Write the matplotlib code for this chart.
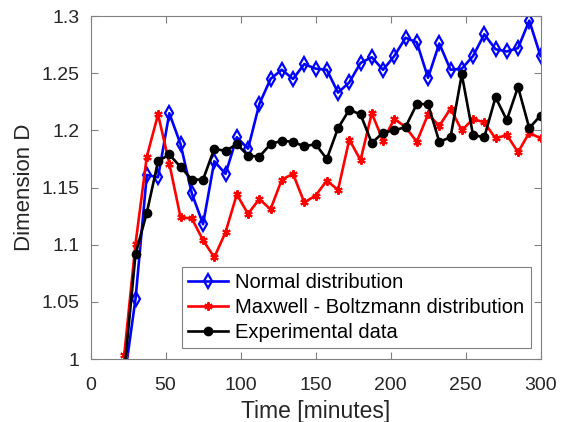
import matplotlib
matplotlib.use("Agg")
import matplotlib.pyplot as plt

plt.rcParams['font.family'] = ['Liberation Sans', 'DejaVu Sans']

time = [22.5, 30, 37.5, 45, 52.5, 60, 67.5, 75, 82.5, 90, 97.5, 105, 112.5, 120,
        127.5, 135, 142.5, 150, 157.5, 165, 172.5, 180, 187.5, 195, 202.5, 210,
        217.5, 225, 232.5, 240, 247.5, 255, 262.5, 270, 277.5, 285, 292.5, 300]

normal = [0.982, 1.053, 1.161, 1.159, 1.215, 1.188, 1.145, 1.118, 1.173, 1.162,
          1.194, 1.184, 1.223, 1.245, 1.253, 1.245, 1.258, 1.254, 1.253, 1.233,
          1.242, 1.259, 1.264, 1.253, 1.265, 1.281, 1.277, 1.246, 1.276, 1.253,
          1.254, 1.265, 1.284, 1.271, 1.269, 1.272, 1.296, 1.265]

maxwell = [1.004, 1.101, 1.177, 1.214, 1.171, 1.124, 1.123, 1.104, 1.089, 1.111,
           1.144, 1.127, 1.140, 1.131, 1.157, 1.162, 1.137, 1.143, 1.156, 1.148,
           1.192, 1.174, 1.215, 1.191, 1.210, 1.203, 1.190, 1.214, 1.204, 1.219,
           1.200, 1.210, 1.207, 1.193, 1.196, 1.181, 1.198, 1.193]

experimental = [0.989, 1.092, 1.128, 1.173, 1.179, 1.168, 1.157, 1.157, 1.184, 1.182,
                1.188, 1.178, 1.177, 1.188, 1.191, 1.190, 1.186, 1.188, 1.175, 1.202,
                1.218, 1.214, 1.189, 1.198, 1.200, 1.203, 1.223, 1.223, 1.190, 1.194,
                1.249, 1.196, 1.194, 1.229, 1.209, 1.238, 1.202, 1.213]

labels = ['Normal distribution', 'Maxwell - Boltzmann distribution', 'Experimental data']

fig = plt.figure(figsize=(5.66, 4.22), dpi=100)
ax = fig.add_axes([0.160, 0.149, 0.795, 0.813])

ax.plot(time, normal, color='#0000ff', lw=1.9, marker='d', markersize=7.5,
        markerfacecolor='none', markeredgewidth=1.6, label=labels[0])
ax.plot(time, maxwell, color='#ff0000', lw=1.9, marker=(6, 2, 0), markersize=6,
        markeredgewidth=1.5, label=labels[1])
ax.plot(time, experimental, color='#000000', lw=1.9, marker='o', markersize=6,
        label=labels[2])

ax.set_xlim(0, 300)
ax.set_ylim(1, 1.3)
ax.set_xticks([0, 50, 100, 150, 200, 250, 300])
ax.set_yticks([1, 1.05, 1.1, 1.15, 1.2, 1.25, 1.3])
ax.set_yticklabels(['1', '1.05', '1.1', '1.15', '1.2', '1.25', '1.3'])

axis_col = '#262626'
for s in ax.spines.values():
    s.set_color('#808080')
    s.set_linewidth(0.8)
ax.tick_params(direction='in', top=True, right=True, length=5, width=0.8,
               color='#808080', labelsize=14, labelcolor=axis_col)
ax.tick_params(axis='x', pad=13)
ax.tick_params(axis='y', pad=8)

ax.set_xlabel('Time [minutes]', fontsize=16.5, color=axis_col, labelpad=4)
ax.set_ylabel('Dimension D', fontsize=16, color=axis_col, labelpad=5)

leg = ax.legend(loc='lower right', bbox_to_anchor=(0.978, 0.032), fontsize=14.5,
                frameon=True, fancybox=False, edgecolor='#808080', framealpha=1,
                handlelength=2.0, handletextpad=0.35, borderpad=0.3, labelspacing=0.3,
                borderaxespad=0)
leg.get_frame().set_linewidth(0.8)

fig.savefig('out.png', dpi=100)
